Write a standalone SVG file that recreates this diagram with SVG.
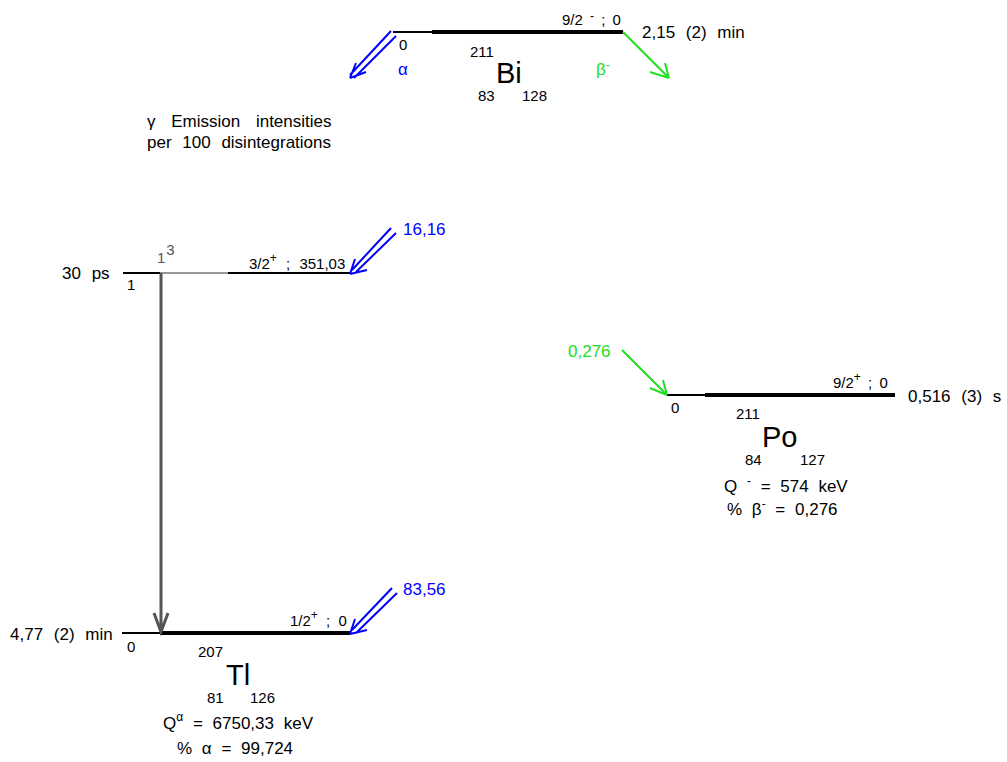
<svg xmlns="http://www.w3.org/2000/svg" width="1007" height="762" viewBox="0 0 1007 762">
<style>
text{font-family:"Liberation Sans",Arial,sans-serif;fill:#000}
.s{font-size:15px}
.m{font-size:17px;word-spacing:6px}
.b{font-size:29px}
.blue{fill:#0000ff}
.grn{fill:#22dd22}
.lvl{stroke:#000;stroke-width:4;fill:none}
.thin{stroke:#000;stroke-width:2;fill:none}
.ab{stroke:#0000ff;stroke-width:2;fill:none}
.gb{stroke:#22dd22;stroke-width:2;fill:none}
.gm{stroke:#555;stroke-width:3;fill:none}
</style>
<rect width="1007" height="762" fill="#fff"/>
<g id="bi211">
<line class="thin" x1="393" y1="32" x2="432" y2="32"/>
<line class="lvl" x1="432" y1="32" x2="623" y2="32"/>
<text class="s" x="562" y="25" style="word-spacing:3px">9/2 <tspan dy="-5" font-size="12">-</tspan><tspan dy="5"> ; 0</tspan></text>
<text class="m" x="642" y="38">2,15 (2) min</text>
<text class="s" x="399" y="50">0</text>
<text class="s" x="470" y="57">211</text>
<text class="b" x="496" y="83">Bi</text>
<text class="s" x="478" y="101">83</text>
<text class="s" x="522" y="101">128</text>
<text class="m blue" x="398" y="75">α</text>
<text class="m grn" x="596" y="75">β<tspan dy="-6" font-size="12">-</tspan></text>
</g>
<g id="note">
<text class="m" x="147" y="127" style="word-spacing:11px">γ Emission intensities</text>
<text class="m" x="147" y="148" style="word-spacing:6px">per 100 disintegrations</text>
</g>
<g id="tl207-351">
<line class="thin" x1="123" y1="273" x2="160" y2="273"/>
<line x1="160" y1="273" x2="228" y2="273" stroke="#777" stroke-width="1.5"/>
<line class="thin" x1="228" y1="273" x2="350" y2="273"/>
<text class="m" x="62" y="279">30 ps</text>
<text class="s" x="127" y="290">1</text>
<text class="s" x="157" y="263" style="fill:#555">1<tspan dx="1" dy="-8">3</tspan></text>
<text class="s" x="249" y="269" style="word-spacing:5px">3/2<tspan dy="-7" font-size="12">+</tspan><tspan dy="7"> ; 351,03</tspan></text>
<text class="m blue" x="403" y="235">16,16</text>
</g>
<g id="tl207">
<line class="thin" x1="122" y1="633" x2="160" y2="633"/>
<line class="lvl" x1="160" y1="633" x2="350" y2="633"/>
<text class="m" x="10" y="640">4,77 (2) min</text>
<text class="s" x="127" y="652">0</text>
<text class="s" x="198" y="657">207</text>
<text class="b" x="226" y="685">Tl</text>
<text class="s" x="207" y="703">81</text>
<text class="s" x="250" y="703">126</text>
<text class="m" x="163" y="729" style="word-spacing:5px">Q<tspan dy="-8" font-size="12">α</tspan><tspan dy="8"> = 6750,33 keV</tspan></text>
<text class="m" x="177" y="754" style="word-spacing:5px">% α = 99,724</text>
<text class="s" x="290" y="626" style="word-spacing:4px">1/2<tspan dy="-7" font-size="12">+</tspan><tspan dy="7"> ; 0</tspan></text>
<text class="m blue" x="403" y="595">83,56</text>
</g>
<g id="po211">
<line class="thin" x1="667" y1="395" x2="705" y2="395"/>
<line class="lvl" x1="705" y1="395" x2="895" y2="395"/>
<text class="s" x="833" y="388" style="word-spacing:3px">9/2<tspan dy="-7" font-size="12">+</tspan><tspan dy="7"> ; 0</tspan></text>
<text class="m" x="908" y="402">0,516 (3) s</text>
<text class="s" x="671" y="413">0</text>
<text class="s" x="736" y="419">211</text>
<text class="b" x="762" y="447">Po</text>
<text class="s" x="745" y="465">84</text>
<text class="s" x="800" y="465">127</text>
<text class="m" x="724" y="492" style="word-spacing:5px">Q <tspan dy="-7" font-size="12">-</tspan><tspan dy="7"> = 574 keV</tspan></text>
<text class="m" x="727" y="515" style="word-spacing:5px">% β<tspan dy="-7" font-size="12">-</tspan><tspan dy="7"> = 0,276</tspan></text>
<text class="m grn" x="568" y="357" style="word-spacing:0">0,276</text>
</g>
<g id="connectors">
<path class="ab" d="M391,31 L350,75 M396,36 L354,78 M350,78 L356,63 M350,78 L366,72"/>
<path class="gb" d="M623,32 L669,78 M669,78 L650,72 M669,78 L665,63"/>
<path class="ab" d="M391,228 L352,270 M396,233 L356,272 M350,274 L355,259 M350,274 L367,270"/>
<path class="ab" d="M392,588 L352,630 M397,593 L356,633 M350,634 L355,619 M350,634 L367,630"/>
<path class="gb" d="M622,350 L667,395 M667,395 L650,388 M667,395 L663,380"/>
<path class="gm" d="M161,273 L161,632 M154,613 L161,632 L168,613"/>
</g>
</svg>
